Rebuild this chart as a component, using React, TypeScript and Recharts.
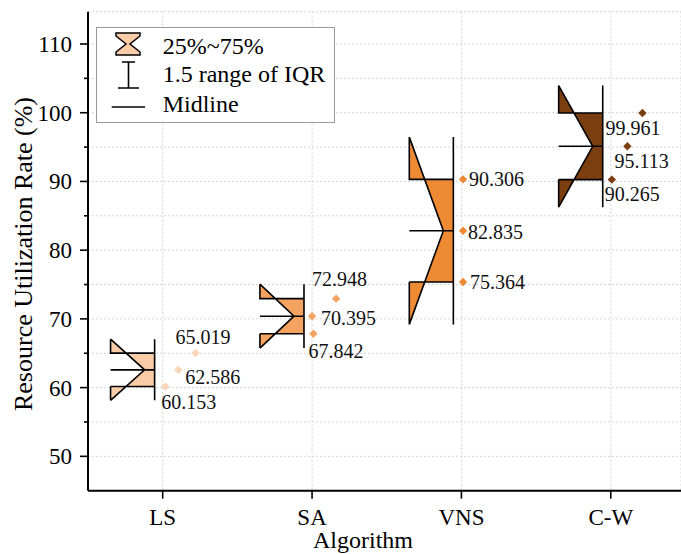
import { ComposedChart, XAxis, YAxis, CartesianGrid, Scatter, ReferenceArea, Legend, Label } from 'recharts';

const algorithms = ['LS', 'SA', 'VNS', 'C-W'];
const q1 = [60.153, 67.842, 75.364, 90.265];
const median = [62.586, 70.395, 82.835, 95.113];
const q3 = [65.019, 72.948, 90.306, 99.961];
// ends of the notch / whisker
const whiskerLow = [58.15, 65.75, 69.2, 86.25];
const whiskerHigh = [67.05, 75.05, 96.45, 103.95];
// x of the three overlaid points (q1, median, q3), in category units from the tick
const pointJitter = [
  [0.018, 0.105, 0.22],
  [0.009, 0.0, 0.161],
  [0.011, 0.011, 0.011],
  [0.007, 0.111, 0.212],
];
const yTicks = [50, 55, 60, 65, 70, 75, 80, 85, 90, 95, 100, 105, 110];

const boxColors = ['#F9CBA6', '#F4A460', '#EE8A33', '#7A3E10'];
const pointColors = ['#FAD5B8', '#F4A460', '#EE8A33', '#7A3E10'];
// label offsets from each point [dx, dy] in px
const labelOffsets = [
  [[-4, 22], [7, 14], [-20, -9]],
  [[-5, 24], [9, 9], [-24, -13]],
  [[7, 7], [5, 8], [6, 7]],
  [[-7, 21], [-13, 22], [-37, 22]],
];

const FONT = '"Liberation Serif", "Times New Roman", serif';
const BOX_LEFT = -0.349;
const BOX_RIGHT = -0.054;
const TIP = 0.773;

const makeBoxShape = (i: number) => (props: any) => {
  const { x, y, width, height } = props;
  const top = whiskerHigh[i];
  const bottom = whiskerLow[i];
  const py = (v: number) => y + ((top - v) / (top - bottom)) * height;
  const L = x;
  const R = x + width;
  const tip = x + width * TIP;
  const yT = py(top);
  const yQ3 = py(q3[i]);
  const yM = py(median[i]);
  const yQ1 = py(q1[i]);
  const yB = py(bottom);
  return (
    <g>
      <path
        d={`M${L},${yT} L${L},${yQ3} L${R},${yQ3} L${R},${yQ1} L${L},${yQ1} L${L},${yB} L${tip},${yM} Z`}
        fill={boxColors[i]}
        stroke="none"
      />
      <path
        d={`M${L},${yT} L${L},${yQ3} L${R},${yQ3} M${L},${yQ1} L${R},${yQ1} M${L},${yB} L${L},${yQ1} M${L},${yT} L${tip},${yM} L${L},${yB} M${L},${yM} L${R},${yM} M${R},${yT} L${R},${yB}`}
        stroke="#000"
        strokeWidth={1.6}
        fill="none"
      />
    </g>
  );
};

const makePointShape = (i: number) => (props: any) => {
  const { cx, cy, payload } = props;
  const [dx, dy] = labelOffsets[i][payload.k];
  const r = 4.2;
  return (
    <g>
      <path d={`M${cx},${cy - r} L${cx + r},${cy} L${cx},${cy + r} L${cx - r},${cy} Z`} fill={pointColors[i]} />
      <text x={cx + dx} y={cy + dy} fontSize={20} fontFamily={FONT} fill="#111">
        {payload.y.toFixed(3)}
      </text>
    </g>
  );
};

const YTick = (props: any) => {
  const { x, y, payload } = props;
  const axisX = x + 8;
  const major = payload.value % 10 === 0;
  return (
    <g>
      <line x1={axisX - (major ? 8 : 4)} x2={axisX} y1={y} y2={y} stroke="#000" strokeWidth={1.6} />
      {major && (
        <text x={axisX - 16} y={y} dy="0.35em" textAnchor="end" fontSize={23} fontFamily={FONT} fill="#000">
          {payload.value}
        </text>
      )}
    </g>
  );
};

const LegendBox = () => (
  <div style={{ width: 239, height: 96, border: '1px solid #999', boxSizing: 'border-box', background: '#fff' }}>
    <svg width={239} height={96} style={{ position: 'absolute', left: 0, top: 0 }}>
      <path
        d="M20,6 L44,6 L44,9 L34,17 L44,25 L44,28 L20,28 L20,25 L30,17 L20,9 Z"
        fill="#F9CBA6"
        stroke="#000"
        strokeWidth={1.5}
      />
      <path d="M26,35 L39,35 M32.5,35 L32.5,61 M22,61 L43,61" stroke="#000" strokeWidth={1.6} fill="none" />
      <line x1={15.7} x2={49} y1={80} y2={80} stroke="#000" strokeWidth={1.6} />
      <text x={66.7} y={26.6} fontSize={24} fontFamily={FONT} fill="#000">25%~75%</text>
      <text x={66.7} y={55.3} fontSize={24} fontFamily={FONT} fill="#000">1.5 range of IQR</text>
      <text x={66.7} y={85} fontSize={24} fontFamily={FONT} fill="#000">Midline</text>
    </svg>
  </div>
);

const App = () => {
  return (
    <div style={{ position: 'absolute', left: 0, top: 0, width: 681, height: 554, overflow: 'hidden', background: '#fff' }}>
      <ComposedChart width={681} height={554} margin={{ top: 11.7, right: 0, bottom: 0, left: 0 }}>
        <CartesianGrid stroke="#d4d4d4" strokeDasharray="2 2" />
        <XAxis
          dataKey="x"
          type="number"
          domain={[0.5, 4.47]}
          allowDataOverflow
          ticks={[1, 2, 3, 4]}
          tickFormatter={(v: number) => algorithms[v - 1]}
          height={63.3}
          tickSize={8}
          tickMargin={10}
          tick={{ fontSize: 23, fontFamily: FONT, fill: '#000' }}
          tickLine={{ stroke: '#000', strokeWidth: 1.6 }}
          axisLine={{ stroke: '#000', strokeWidth: 2 }}
        >
          <Label
            content={() => (
              <text x={363} y={548} textAnchor="middle" fontSize={24} fontFamily={FONT} fill="#000">
                Algorithm
              </text>
            )}
          />
        </XAxis>
        <XAxis
          xAxisId="top"
          orientation="top"
          type="number"
          domain={[0.5, 4.47]}
          height={0}
          tick={false}
          tickLine={false}
          axisLine={{ stroke: '#000', strokeWidth: 2 }}
        />
        <YAxis
          dataKey="y"
          type="number"
          domain={[45, 114.7]}
          allowDataOverflow
          ticks={yTicks}
          width={88}
          tickSize={8}
          tickMargin={0}
          tickLine={false}
          tick={<YTick />}
          axisLine={{ stroke: '#000', strokeWidth: 2 }}
        >
          <Label
            content={() => (
              <text
                transform="translate(32, 254) rotate(-90)"
                textAnchor="middle"
                fontSize={26}
                fontFamily={FONT}
                fill="#000"
              >
                Resource Utilization Rate (%)
              </text>
            )}
          />
        </YAxis>
        <Legend
          layout="vertical"
          align="center"
          verticalAlign="middle"
          content={() => <LegendBox />}
          wrapperStyle={{ left: 96, top: 26.7, width: 239, height: 96 }}
        />
        {algorithms.map((name, i) => (
          <ReferenceArea
            key={`box-${name}`}
            x1={i + 1 + BOX_LEFT}
            x2={i + 1 + BOX_RIGHT}
            y1={whiskerLow[i]}
            y2={whiskerHigh[i]}
            shape={makeBoxShape(i)}
          />
        ))}
        {algorithms.map((name, i) => (
          <Scatter
            key={`pts-${name}`}
            name={name}
            data={[q1[i], median[i], q3[i]].map((v, k) => ({ x: i + 1 + pointJitter[i][k], y: v, k }))}
            shape={makePointShape(i)}
            isAnimationActive={false}
          />
        ))}
      </ComposedChart>
    </div>
  );
};

export default App;
